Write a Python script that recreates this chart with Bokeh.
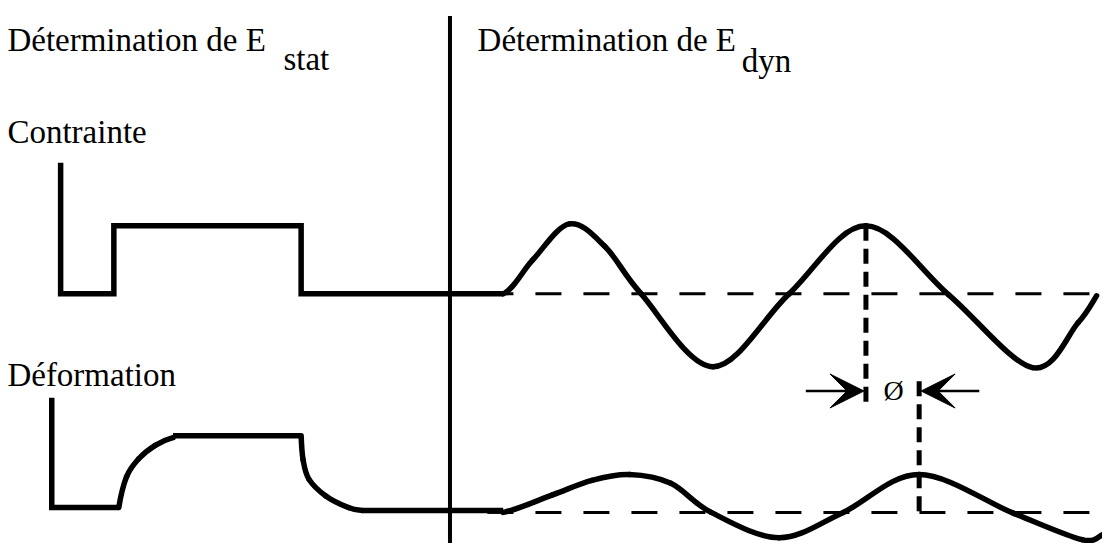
from bokeh.plotting import figure
from bokeh.models import Range1d, Arrow, VeeHead, ColumnDataSource
from bokeh.core.properties import value
from bokeh.embed import file_html
from bokeh.resources import INLINE

# ---- data (diagram units = reference pixels, y downward) ----
# static stress (Contrainte) square step
stress_step_x = [61, 61, 115, 115, 305, 305, 510]
stress_step_y = [167, 302, 302, 232, 232, 302, 302]
# dynamic stress sine (key points)
stress_wave_x = [510, 540, 577, 613, 650, 723, 800, 878, 962, 1047, 1093, 1112]
stress_wave_y = [302, 267, 230, 253, 302, 377, 302, 232, 303, 378, 332, 304]
stress_base_y = 302

# static strain (Déformation)
strain_step_x = [52, 52, 120]
strain_step_y = [409, 522, 522]
strain_rise_x = [120, 128, 140, 157, 175]
strain_rise_y = [522, 490, 472, 458, 450]
strain_top_x = [175, 305]
strain_top_y = [448, 448]
strain_fall_x = [305, 307, 313, 330, 353, 367]
strain_fall_y = [448, 473, 493, 510, 522, 525]
strain_flat_x = [367, 510]
strain_flat_y = [525, 525]
# dynamic strain sine (key points)
strain_wave_x = [510, 560, 600, 638, 680, 721, 790, 855, 932, 1028, 1097, 1118]
strain_wave_y = [527, 509, 494, 488, 497, 527, 553, 527, 488, 528, 555, 550]
strain_base_y = 527

baseline_x = [494, 1118]
divider_x = 456
divider_y = [16, 560]
phase_left_x = 878
phase_left_y = [232, 413]
phase_right_x = 932
phase_right_y = [392, 527]
arrow_y = 402
arrow_left = [817, 876]
arrow_right = [993, 934]

labels_text = ["Détermination de E", "stat", "Détermination de E", "dyn", "Contrainte", "Déformation"]
labels_x = [7, 287, 484, 752, 7, 7]
labels_y = [41, 60, 41, 62, 135, 386]
phi_text = "Ø"
phi_x = 906
phi_y = 402

FONT = value("Liberation Serif")

p = figure(width=1102, height=543, x_range=Range1d(0, 1118), y_range=Range1d(559, 0),
           output_backend="svg", toolbar_location=None,
           x_axis_type=None, y_axis_type=None, min_border=0)
p.grid.visible = False
p.outline_line_color = None
p.background_fill_color = "white"

LW = 5.5


def smooth(xs, ys, prev=None, nxt=None):
    pts = list(zip(xs, ys))
    ext = [prev if prev else pts[0]] + pts + [nxt if nxt else pts[-1]]
    d = dict(x0=[], y0=[], x1=[], y1=[], cx0=[], cy0=[], cx1=[], cy1=[])
    for i in range(len(pts) - 1):
        a, b, c, e = ext[i], ext[i + 1], ext[i + 2], ext[i + 3]
        d["x0"].append(b[0]); d["y0"].append(b[1])
        d["x1"].append(c[0]); d["y1"].append(c[1])
        d["cx0"].append(b[0] + (c[0] - a[0]) / 6); d["cy0"].append(b[1] + (c[1] - a[1]) / 6)
        d["cx1"].append(c[0] - (e[0] - b[0]) / 6); d["cy1"].append(c[1] - (e[1] - b[1]) / 6)
    return ColumnDataSource(d)


def curve(src):
    p.bezier(x0="x0", y0="y0", x1="x1", y1="y1", cx0="cx0", cy0="cy0", cx1="cx1", cy1="cy1",
             source=src, line_width=LW, line_color="black", line_cap="round")


# dashed baselines
p.line(baseline_x, [stress_base_y] * 2, line_width=3, line_color="black", line_dash="26 22")
p.line(baseline_x, [strain_base_y] * 2, line_width=3, line_color="black", line_dash="26 22")

# divider
p.line([divider_x] * 2, divider_y, line_width=4, line_color="black")

# stress
p.line(stress_step_x, stress_step_y, line_width=LW, line_color="black", line_join="miter")
curve(smooth(stress_wave_x, stress_wave_y, prev=(470, stress_base_y)))

# strain
p.line(strain_step_x, strain_step_y, line_width=LW, line_color="black", line_join="miter")
curve(smooth(strain_rise_x, strain_rise_y, prev=(120, 540), nxt=(200, 447)))
p.line(strain_top_x, strain_top_y, line_width=LW, line_color="black")
curve(smooth(strain_fall_x, strain_fall_y, prev=(305, 420), nxt=(400, 526)))
p.line(strain_flat_x, strain_flat_y, line_width=LW, line_color="black")
curve(smooth(strain_wave_x, strain_wave_y, prev=(470, strain_base_y)))

# phase lines
p.line([phase_left_x] * 2, phase_left_y, line_width=5, line_color="black", line_dash="15 8")
p.line([phase_right_x] * 2, phase_right_y, line_width=5, line_color="black", line_dash="15 8")

# arrows
for xs in (arrow_left, arrow_right):
    p.add_layout(Arrow(end=VeeHead(size=34, fill_color="black", line_color="black", line_width=1),
                       x_start=xs[0], y_start=arrow_y, x_end=xs[1], y_end=arrow_y,
                       line_width=2.5, line_color="black"))

# texts
p.text(x=labels_x, y=labels_y, text=labels_text, text_font=FONT, text_font_size=value("33px"),
       text_align="left", text_baseline="alphabetic", text_color="black")
p.text(x=[phi_x], y=[phi_y], text=[phi_text], text_font=FONT, text_font_size=value("28px"),
       text_align="center", text_baseline="middle", text_color="black")

open("out.html", "w").write(file_html(p, INLINE))
